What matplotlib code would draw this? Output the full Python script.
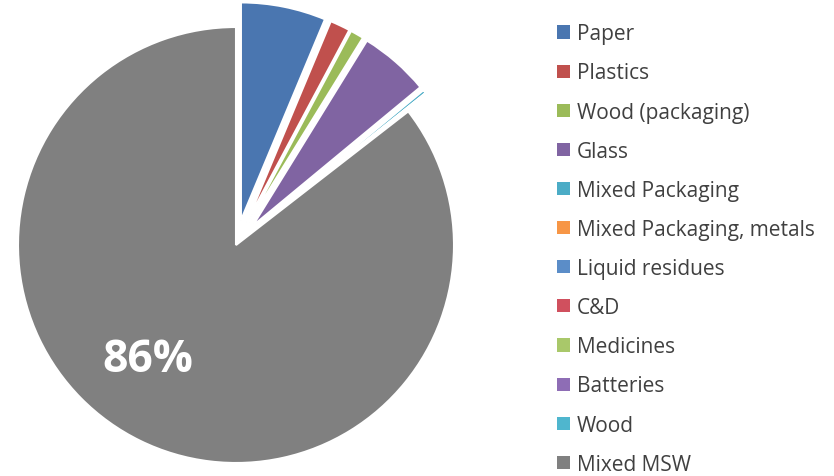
import matplotlib
matplotlib.use("Agg")
import matplotlib.pyplot as plt
from matplotlib.patches import Patch

categories = ["Paper", "Plastics", "Wood (packaging)", "Glass", "Mixed Packaging",
              "Mixed Packaging, metals", "Liquid residues", "C&D", "Medicines",
              "Batteries", "Wood", "Mixed MSW"]
values = [6.3, 1.5, 1.0, 5.2, 0.25, 0.03, 0.1, 0.02, 0.01, 0.01, 0.08, 85.5]
colors = ["#4A76B0", "#C0504D", "#9BBB59", "#8064A2", "#4BACC6", "#F79646",
          "#5B8DC8", "#D0505E", "#A9C86A", "#8E6DB5", "#4FB6CE", "#808080"]
explode_amt = [0.115] * 11 + [0.0]

fig = plt.figure(figsize=(8.34, 4.77), dpi=100)
W, H = 834, 477
cx, cy, r = 236, 477 - 246, 218
lim = 1.2
size = 2 * lim * r
ax = fig.add_axes([(cx - size / 2) / W, (cy - size / 2) / H, size / W, size / H])
wedges, _ = ax.pie(values, colors=colors, startangle=90, counterclock=False,
                   explode=explode_amt, radius=1.0,
                   wedgeprops=dict(edgecolor="white", linewidth=1.5))
for w in wedges:
    w.set_clip_on(False)
ax.set_xlim(-lim, lim)
ax.set_ylim(-lim, lim)
ax.set_aspect("equal")
ax.axis("off")

ax.text(-0.405, -0.525, "86%", color="white", fontsize=32, fontweight="bold",
        family=["Open Sans", "DejaVu Sans"], ha="center", va="center")

handles = [Patch(facecolor=c, edgecolor="none") for c in colors]
leg = fig.legend(handles, categories, loc="upper left",
                 bbox_to_anchor=(549 / W, 1 - 16 / H), frameon=False,
                 prop=dict(family=["Open Sans", "DejaVu Sans"], size=15),
                 handlelength=0.6, handleheight=0.6, handletextpad=0.35,
                 labelspacing=0.87, borderaxespad=0)
for t in leg.get_texts():
    t.set_color("#404040")

fig.savefig("out.png", dpi=100)
